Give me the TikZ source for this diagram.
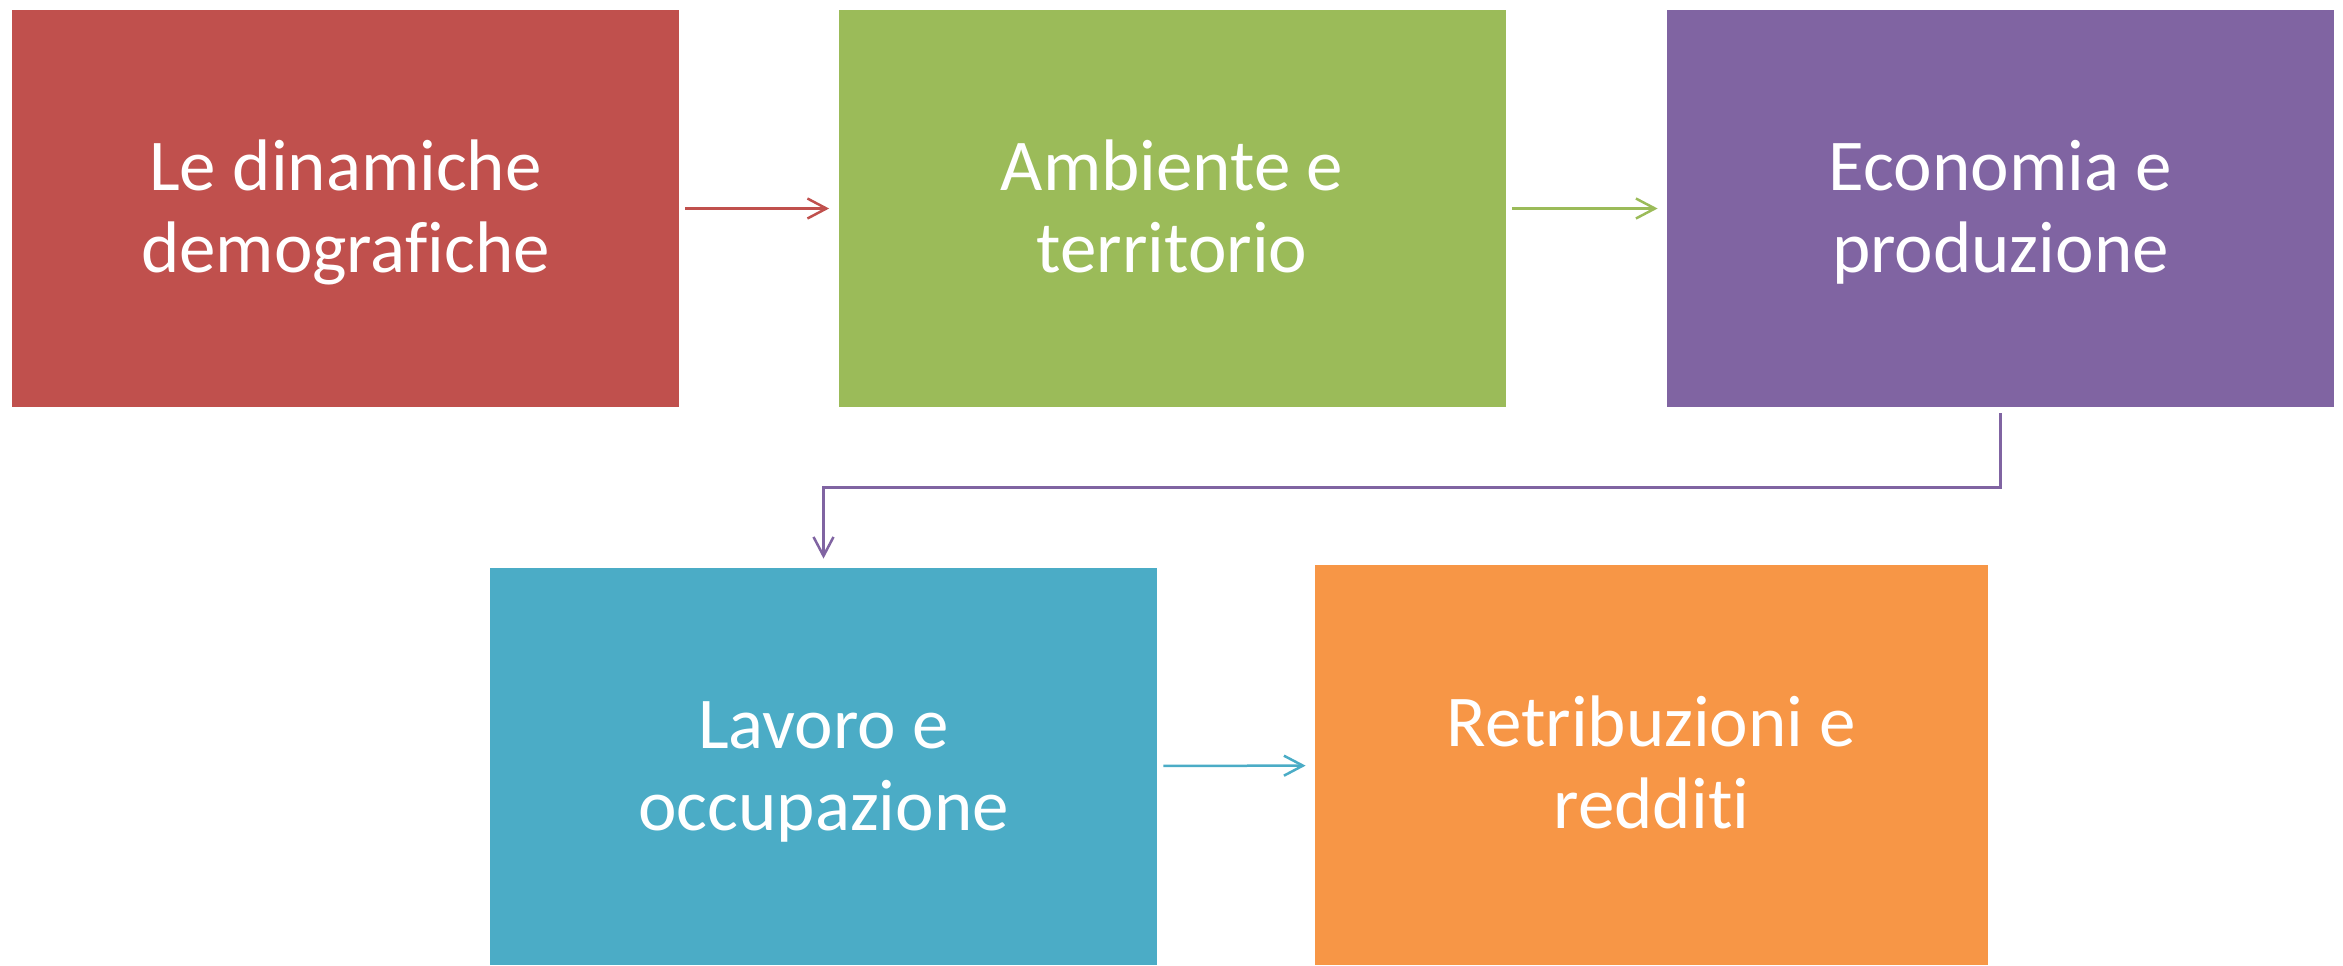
\documentclass[tikz,border=0pt]{standalone}
\usepackage{fontspec}
\setmainfont[Ligatures=NoCommon]{Carlito}
\usetikzlibrary{arrows.meta}

\definecolor{themeRed}{HTML}{C0504D}
\definecolor{themeGreen}{HTML}{9BBB59}
\definecolor{themePurple}{HTML}{8064A2}
\definecolor{themeBlue}{HTML}{4BACC6}
\definecolor{themeOrange}{HTML}{F79646}

\newcommand{\labstrut}{\rule[-7.5pt]{0pt}{37.5pt}}

\tikzset{
  topicbox/.style={fill=#1, draw=none, text=white, align=center,
    minimum width=333.5pt, minimum height=198.5pt, inner sep=0pt,
    font=\fontsize{36.5pt}{41pt}\selectfont},
  flowarrow/.style={draw=#1, line width=1.25pt,
    -{Straight Barb[length=9.5pt,width=10pt]},
    shorten <=3pt, shorten >=4.5pt}
}

\begin{document}
\begin{tikzpicture}[x=0.5pt,y=0.5pt,yscale=-1,xscale=1]
    \useasboundingbox (0,0) rectangle (2343,965);

    %Shape: Rectangle [top row]
    \node [topicbox=themeRed] (demografia) at (345.5,208.5) {\labstrut Le dinamiche\\\labstrut demografiche};
    \node [topicbox=themeGreen] (ambiente) at (1172,208.5) {\labstrut Ambiente e\\\labstrut territorio};
    \node [topicbox=themePurple] (economia) at (2000.5,208.5) {\labstrut Economia e\\\labstrut produzione};
    %Shape: Rectangle [bottom row]
    \node [topicbox=themeBlue] (lavoro) at (823.5,766.5) {\labstrut Lavoro e\\\labstrut occupazione};
    \node [topicbox=themeOrange, minimum width=336.5pt, minimum height=200pt] (redditi) at (1651.5,765) {\labstrut Retribuzioni e\\\labstrut redditi};

    %Straight Lines
    \draw [flowarrow=themeRed] (demografia) -- (ambiente);
    \draw [flowarrow=themeGreen] (ambiente) -- (economia);
    \draw [flowarrow=themePurple] (economia.south) -- ++(0,80) -| (lavoro.north);
    \draw [flowarrow=themeBlue] (lavoro) -- (redditi);

\end{tikzpicture}
\end{document}
